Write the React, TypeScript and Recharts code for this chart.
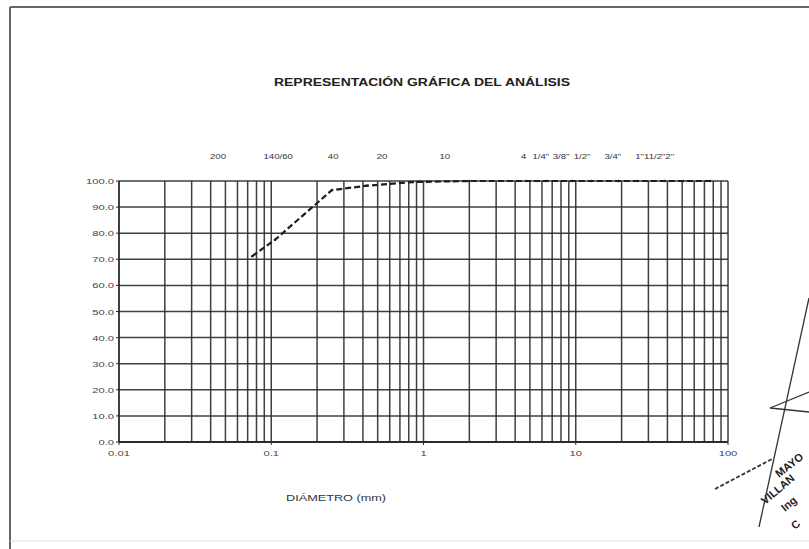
import React from "react"
import { LineChart, Line, XAxis, YAxis, CartesianGrid, ReferenceLine, ReferenceDot } from "recharts"

// sieve openings (mm) and % passing
const diameters = [0.075, 0.106, 0.25, 0.425, 0.85, 2.0, 4.75, 6.35, 9.5, 12.7, 19.05, 25.4, 38.1, 50.8, 76.2]
const passing = [71.2, 77.5, 96.5, 98.2, 99.6, 100, 100, 100, 100, 100, 100, 100, 100, 100, 100]

// sieve names printed above the grid, and where they sit on the diameter axis
const sieveLabels = ["200", "140/60", "40", "20", "10", "4", "1/4\"", "3/8\"", "1/2\"", "3/4\"", "1\"11/2\"2\""]
const sieveLabelAt = [0.0447, 0.111, 0.255, 0.534, 1.38, 4.55, 5.9, 8.0, 11.0, 17.5, 33.0]

const xTicks = [0.01, 0.1, 1, 10, 100]
const yTicks = [0, 10, 20, 30, 40, 50, 60, 70, 80, 90, 100]
const decades = [0.01, 0.1, 1, 10]
const multipliers = [1, 2, 3, 4, 5, 6, 7, 8, 9]

const data = diameters.map((d, i) => ({ d, p: passing[i] }))
const gridX = decades
  .flatMap((dec) => multipliers.map((m) => +(m * dec).toPrecision(3)))
  .filter((v) => v > 0.01)
  .concat([100])

const font = "'Liberation Sans Narrow', 'Liberation Sans', Arial, sans-serif"
const ink = "#2b2b2b"
const stretch = 1.4 // the scan is wider than tall

const XTick = ({ x, y, payload }: any) => (
  <text transform={`translate(${x},${y + 9}) scale(${stretch},1)`} textAnchor="middle" fontSize={8} fill="#444" fontFamily={font}>
    {String(payload.value)}
  </text>
)

const YTick = ({ x, y, payload }: any) => (
  <text transform={`translate(${x},${y + 3}) scale(${stretch},1)`} textAnchor="end" fontSize={8} fill="#444" fontFamily={font}>
    {Number(payload.value).toFixed(1)}
  </text>
)

const SieveLabel = ({ viewBox, value }: any) => (
  <text transform={`translate(${viewBox.x},${viewBox.y - 22}) scale(1.2,1)`} textAnchor="middle" fontSize={8} fill="#333" fontFamily={font}>
    {value}
  </text>
)

export default function App() {
  return (
    <div style={{ position: "absolute", left: 0, top: 0, width: 809, height: 549, background: "#fff" }}>
      <LineChart width={809} height={549} data={data} margin={{ top: 181, right: 81, bottom: 87, left: 79 }}>
        <CartesianGrid vertical={false} stroke={ink} strokeWidth={1.5} strokeOpacity={0.9} />
        {gridX.map((v) => (
          <ReferenceLine key={v} x={v} stroke={ink} strokeWidth={1.5} strokeOpacity={0.9} />
        ))}
        <XAxis
          dataKey="d"
          type="number"
          scale="log"
          domain={[0.01, 100]}
          ticks={xTicks}
          allowDataOverflow
          height={20}
          tick={<XTick />}
          tickSize={3}
          axisLine={{ stroke: ink, strokeWidth: 1.8 }}
          tickLine={{ stroke: ink }}
        />
        <YAxis
          domain={[0, 100]}
          ticks={yTicks}
          width={40}
          tick={<YTick />}
          tickSize={3}
          axisLine={{ stroke: ink, strokeWidth: 1.8 }}
          tickLine={{ stroke: ink }}
        />
        {sieveLabels.map((s, i) => (
          <ReferenceDot
            key={s}
            x={sieveLabelAt[i]}
            y={100}
            r={0}
            stroke="none"
            fill="none"
            ifOverflow="visible"
            label={<SieveLabel value={s} />}
          />
        ))}
        <Line
          dataKey="p"
          stroke="#1e1e1e"
          strokeWidth={2.2}
          strokeDasharray="6 3"
          dot={{ r: 1.2, fill: "#1e1e1e", stroke: "none" }}
          isAnimationActive={false}
        />
      </LineChart>
      <svg
        width={809}
        height={549}
        style={{ position: "absolute", left: 0, top: 0, pointerEvents: "none" }}
      >
        <line x1={10} y1={7} x2={809} y2={7} stroke="#666" strokeWidth={2} />
        <line x1={10} y1={7} x2={10} y2={549} stroke="#666" strokeWidth={2} />
        <line x1={10} y1={541} x2={809} y2={541} stroke="#ddd" strokeWidth={1} />
        <text
          x={274}
          y={86}
          textLength={296}
          lengthAdjust="spacingAndGlyphs"
          fontSize={10.5}
          fontWeight="bold"
          fontFamily={font}
          fill="#222"
        >
          REPRESENTACIÓN GRÁFICA DEL ANÁLISIS
        </text>
        <text x={286} y={501} textLength={100} lengthAdjust="spacingAndGlyphs" fontSize={8.5} fontFamily={font} fill="#333">
          DIÁMETRO (mm)
        </text>
        {/* stamp fragment, bottom right */}
        <g stroke="#333" strokeWidth={1.3} fill="none">
          <line x1={809} y1={298} x2={759} y2={527} />
          <line x1={770} y1={408} x2={809} y2={392} />
          <line x1={770} y1={408} x2={809} y2={412} />
          <line x1={715} y1={489} x2={772} y2={459} strokeDasharray="4 2" strokeWidth={1.8} />
        </g>
        <g fontFamily={font} fontWeight="bold" fill="#222" fontSize={11}>
          <text transform="translate(779,478) rotate(-38)">MAYO</text>
          <text transform="translate(765,505) rotate(-40)">VILLAN</text>
          <text transform="translate(785,512) rotate(-40)">Ing</text>
          <text transform="translate(795,530) rotate(-40)">C</text>
        </g>
      </svg>
    </div>
  )
}
